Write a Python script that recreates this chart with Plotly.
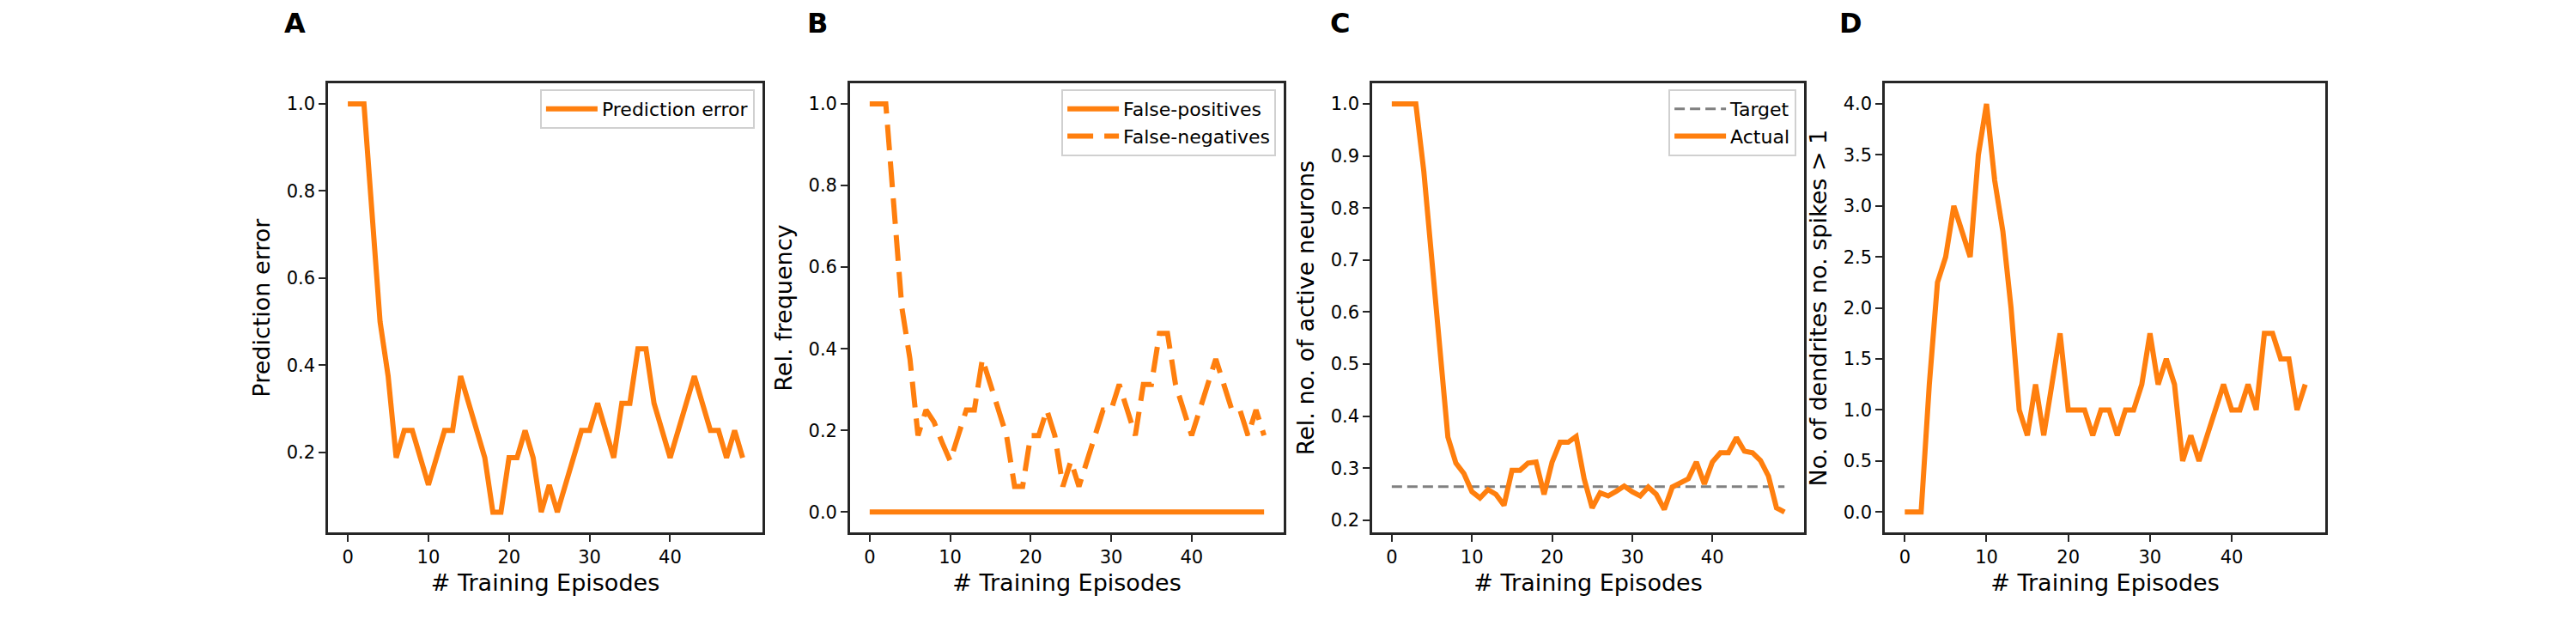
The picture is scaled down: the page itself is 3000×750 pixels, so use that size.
import plotly.graph_objects as go

# episodes 0..49
episodes = list(range(50))

pred_error = [1.0, 1.0, 1.0, 0.75, 0.5, 0.375, 0.1875, 0.25, 0.25, 0.1875,
              0.125, 0.1875, 0.25, 0.25, 0.375, 0.3125, 0.25, 0.1875, 0.0625, 0.0625,
              0.1875, 0.1875, 0.25, 0.1875, 0.0625, 0.125, 0.0625, 0.125, 0.1875, 0.25,
              0.25, 0.3125, 0.25, 0.1875, 0.3125, 0.3125, 0.4375, 0.4375, 0.3125, 0.25,
              0.1875, 0.25, 0.3125, 0.375, 0.3125, 0.25, 0.25, 0.1875, 0.25, 0.1875]

false_pos = [0.0] * 50
false_neg = [1.0, 1.0, 1.0, 0.75, 0.5, 0.375, 0.1875, 0.25, 0.22, 0.17,
             0.125, 0.1875, 0.25, 0.25, 0.375, 0.3125, 0.25, 0.1875, 0.0625, 0.0625,
             0.1875, 0.1875, 0.25, 0.1875, 0.0625, 0.125, 0.0625, 0.125, 0.1875, 0.25,
             0.25, 0.3125, 0.25, 0.1875, 0.3125, 0.3125, 0.4375, 0.4375, 0.3125, 0.25,
             0.1875, 0.25, 0.3125, 0.375, 0.3125, 0.25, 0.25, 0.1875, 0.25, 0.1875]

target_active = 0.265
actual_active = [1.0, 1.0, 1.0, 1.0, 0.87, 0.70, 0.55, 0.36, 0.31, 0.29,
                 0.255, 0.243, 0.259, 0.25, 0.229, 0.296, 0.296, 0.31, 0.312, 0.25,
                 0.312, 0.35, 0.35, 0.361, 0.28, 0.224, 0.253, 0.247, 0.256, 0.266,
                 0.255, 0.247, 0.264, 0.25, 0.221, 0.264, 0.272, 0.28, 0.312, 0.27,
                 0.312, 0.33, 0.33, 0.359, 0.333, 0.33, 0.315, 0.285, 0.224, 0.216]

dendrites = [0, 0, 0, 1.25, 2.25, 2.5, 3.0, 2.75, 2.5, 3.5,
             4.0, 3.25, 2.75, 2.0, 1.0, 0.75, 1.25, 0.75, 1.25, 1.75,
             1.0, 1.0, 1.0, 0.75, 1.0, 1.0, 0.75, 1.0, 1.0, 1.25,
             1.75, 1.25, 1.5, 1.25, 0.5, 0.75, 0.5, 0.75, 1.0, 1.25,
             1.0, 1.0, 1.25, 1.0, 1.75, 1.75, 1.5, 1.5, 1.0, 1.25]

ORANGE = "#ff7f0e"
FONT = "DejaVu Sans"

fig = go.Figure()

fig.add_trace(go.Scatter(x=episodes, y=pred_error, mode="lines", name="Prediction error",
                         line=dict(color=ORANGE, width=6), xaxis="x", yaxis="y", legend="legend"))
fig.add_trace(go.Scatter(x=episodes, y=false_pos, mode="lines", name="False-positives",
                         line=dict(color=ORANGE, width=6), xaxis="x2", yaxis="y2", legend="legend2"))
fig.add_trace(go.Scatter(x=episodes, y=false_neg, mode="lines", name="False-negatives",
                         line=dict(color=ORANGE, width=6, dash="30px,13px"),
                         xaxis="x2", yaxis="y2", legend="legend2"))
fig.add_trace(go.Scatter(x=[0, 49], y=[target_active, target_active], mode="lines", name="Target",
                         line=dict(color="gray", width=3, dash="12px,6px"),
                         xaxis="x3", yaxis="y3", legend="legend3"))
fig.add_trace(go.Scatter(x=episodes, y=actual_active, mode="lines", name="Actual",
                         line=dict(color=ORANGE, width=6), xaxis="x3", yaxis="y3", legend="legend3"))
fig.add_trace(go.Scatter(x=episodes, y=dendrites, mode="lines", showlegend=False,
                         line=dict(color=ORANGE, width=6), xaxis="x4", yaxis="y4"))

domains = [(0.1247, 0.2933), (0.3273, 0.4957), (0.530, 0.6977), (0.729, 0.900)]
ydom = [0.184, 0.881]
ylabels = ["Prediction error", "Rel. frequency", "Rel. no. of active neurons",
           "No. of dendrites no. spikes > 1"]
yranges = [[0.016, 1.047], [-0.05, 1.05], [0.177, 1.039], [-0.2, 4.2]]
yticks = [[0.2, 0.4, 0.6, 0.8, 1.0], [0, 0.2, 0.4, 0.6, 0.8, 1.0],
          [0.2, 0.3, 0.4, 0.5, 0.6, 0.7, 0.8, 0.9, 1.0],
          [0, 0.5, 1, 1.5, 2, 2.5, 3, 3.5, 4]]
letters = ["A", "B", "C", "D"]

axis_common = dict(showline=True, linecolor="#262626", linewidth=2.5, mirror=True,
                   ticks="outside", ticklen=8, tickwidth=2, tickcolor="#262626",
                   showgrid=False, zeroline=False, tickfont=dict(size=21, color="black"))

layout = dict(width=3000, height=750, plot_bgcolor="white", paper_bgcolor="white",
              margin=dict(l=0, r=0, t=0, b=0), font=dict(family=FONT, color="black"),
              annotations=[])
for i in range(4):
    s = "" if i == 0 else str(i + 1)
    layout["xaxis" + s] = dict(domain=list(domains[i]), anchor="y" + s, range=[-2.45, 51.45],
                               tickvals=[0, 10, 20, 30, 40], tickformat="d",
                               title=dict(text="# Training Episodes", font=dict(size=27), standoff=10),
                               **axis_common)
    layout["yaxis" + s] = dict(domain=ydom, anchor="x" + s, range=yranges[i], tickvals=yticks[i],
                               tickformat=".1f",
                               title=dict(text=ylabels[i], font=dict(size=27), standoff=12),
                               **axis_common)
    layout["annotations"].append(dict(text="<b>%s</b>" % letters[i], xref="paper", yref="paper",
                                      x=domains[i][0] - 0.008, y=0.975, xanchor="right", yanchor="middle",
                                      showarrow=False, font=dict(size=32, color="black")))

leg = dict(xanchor="right", yanchor="top", y=0.872, bgcolor="rgba(255,255,255,0.8)",
           bordercolor="#d0d0d0", borderwidth=2, font=dict(size=22, color="black"),
           itemwidth=60)
layout["legend"] = dict(x=domains[0][1] - 0.003, **leg)
layout["legend2"] = dict(x=domains[1][1] - 0.003, **leg)
layout["legend3"] = dict(x=domains[2][1] - 0.003, **leg)

fig.update_layout(**layout)
fig.write_html("out.html")
